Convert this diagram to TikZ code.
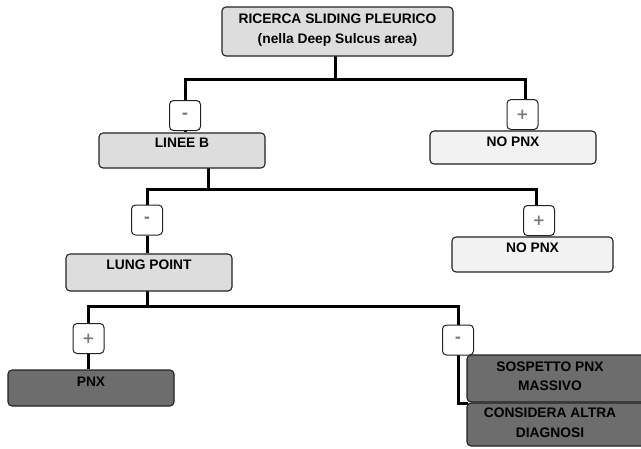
\documentclass[tikz,border=0pt]{standalone}
\usepackage{fontspec}
\setmainfont{Liberation Sans}
\newfontfamily\signfont{DejaVu Sans}
\usetikzlibrary{backgrounds}
\definecolor{lightbox}{HTML}{DDDDDD}
\definecolor{paleb}{HTML}{F2F2F2}
\definecolor{darkbox}{HTML}{6D6D6D}
\definecolor{signc}{HTML}{7A7A7A}
\definecolor{edgec}{HTML}{222222}
\tikzset{
  boxbase/.style={draw=edgec, line width=1.1pt, rounded corners=4pt, inner sep=0pt},
  lightb/.style={boxbase, fill=lightbox},
  paleb/.style={boxbase, fill=paleb},
  darkb/.style={boxbase, fill=darkbox},
  signbox/.style={draw=edgec, line width=1pt, fill=white, rounded corners=4pt,
    minimum width=31pt, minimum height=30pt, inner sep=0pt,
    font=\signfont\fontsize{15}{18}\selectfont\bfseries, text=signc},
  txt/.style={font=\fontsize{13.8}{19.5}\selectfont\bfseries, align=center, inner sep=0pt, text=black},
  conn/.style={line width=3pt, black},
}
\begin{document}
\begin{tikzpicture}[x=1pt,y=-1pt]
\useasboundingbox (0,0) rectangle (641,448);
\clip (0,0) rectangle (641,448);
% boxes
\node[lightb, minimum width=231pt, minimum height=49pt] (top) at (337.5,31.5) {};
\node[txt] (topT) at (337.5,30) {RICERCA SLIDING PLEURICO\\(nella Deep Sulcus area)};
\node[lightb, minimum width=166pt, minimum height=35pt] (lineeb) at (182,150.5) {};
\node[txt] (lineebT) at ([yshift=-10.5pt]lineeb.north) {LINEE B};
\node[paleb, minimum width=166pt, minimum height=33pt] (nopnx1) at (513,147.5) {};
\node[txt] (nopnx1T) at ([yshift=-11pt]nopnx1.north) {NO PNX};
\node[paleb, minimum width=161pt, minimum height=35pt] (nopnx2) at (532.5,254.5) {};
\node[txt] (nopnx2T) at ([yshift=-11pt]nopnx2.north) {NO PNX};
\node[lightb, minimum width=166pt, minimum height=37pt] (lung) at (149,272.5) {};
\node[txt] (lungT) at ([yshift=-11pt]lung.north) {LUNG POINT};
\node[darkb, minimum width=166pt, minimum height=36pt] (pnx) at (91,388) {};
\node[txt] (pnxT) at ([yshift=-12pt]pnx.north) {PNX};
\node[darkb, minimum width=183pt, minimum height=47pt] (sosp) at (558.5,378.5) {};
\node[txt] (sospT) at (550,376) {SOSPETTO PNX\\MASSIVO};
\node[darkb, minimum width=183pt, minimum height=43pt] (cons) at (558.5,424.5) {};
\node[txt] (consT) at (550,422.5) {CONSIDERA ALTRA\\DIAGNOSI};
% sign boxes
\node[signbox] (m1) at (185,115.5) {-};
\node[signbox] (p1) at (522.5,114.5) {+};
\node[signbox] (m2) at (147,220) {-};
\node[signbox] (p2) at (539,220.5) {+};
\node[signbox] (p3) at (88.5,338.5) {+};
\node[signbox] (m3) at (458,340) {-};
% junctions
\coordinate (s1) at (335,79);
\coordinate (s2) at (208,189);
\coordinate (s3) at (147,306);
\coordinate (e6) at (468,403);
\begin{pgfonlayer}{background}
\draw[conn] (top.center -| s1) -- (s1);
\draw[conn] (s1) -| (m1.center);
\draw[conn] (s1) -| ([xshift=3pt]p1.center);
\draw[conn] (m1) -- (lineeb.north -| m1);
\draw[conn] (lineeb.center -| s2) -- (s2);
\draw[conn] (s2) -| (m2.center);
\draw[conn] (s2) -| ([xshift=-3pt]p2.center);
\draw[conn] (m2) -- (lung.north -| m2);
\draw[conn] (lung.center -| s3) -- (s3);
\draw[conn] (s3) -| (p3.center);
\draw[conn] (s3) -| (m3.center);
\draw[conn] (p3) -- (pnx.north -| p3);
\draw[conn] (m3.center) |- (e6);
\end{pgfonlayer}
\end{tikzpicture}
\end{document}
